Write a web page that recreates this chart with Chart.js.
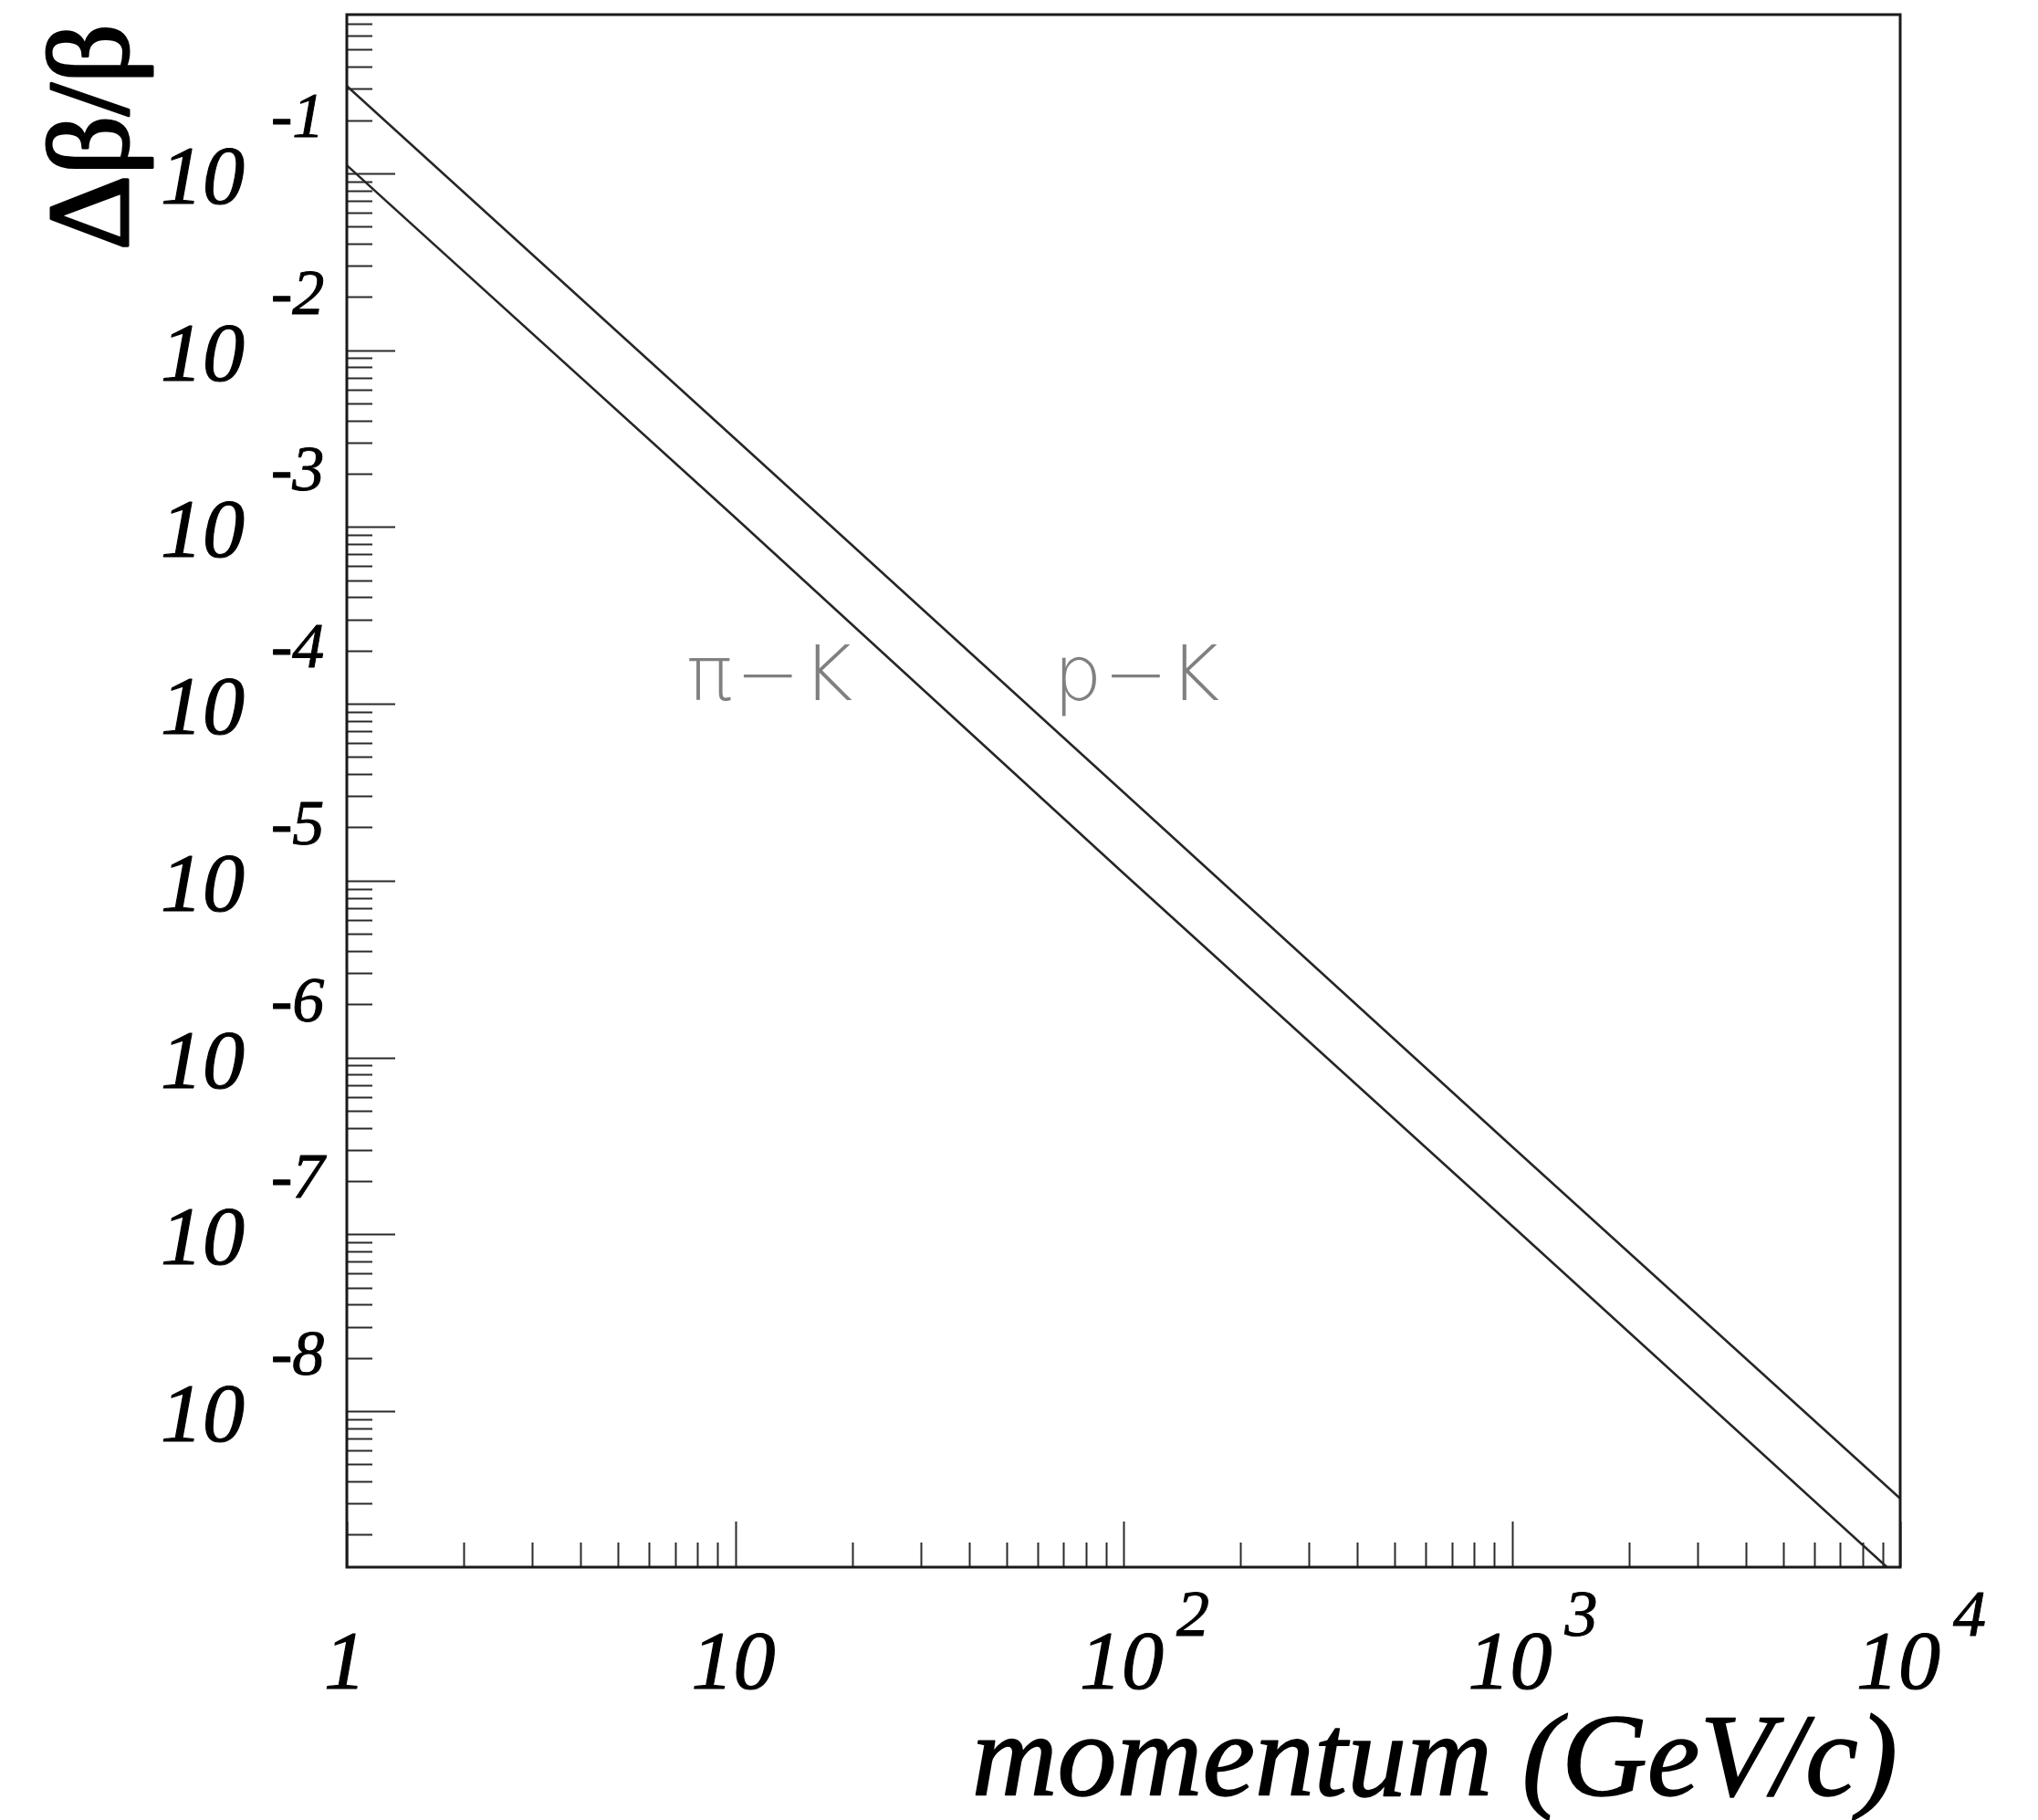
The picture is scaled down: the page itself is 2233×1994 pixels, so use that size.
<!DOCTYPE html>
<html>
<head>
<meta charset="utf-8">
<script src="https://cdn.jsdelivr.net/npm/chart.js@4/dist/chart.umd.min.js"></script>
<style>
  html, body { margin: 0; padding: 0; background: #ffffff; }
  #wrap { width: 2233px; height: 1994px; position: relative; background: #ffffff; }
</style>
</head>
<body>
<div id="wrap"><canvas id="c" width="2233" height="1994"></canvas></div>
<script>
// ---- Data ----
const momentum = [1, 10, 100, 1000, 10000];                    // GeV/c
const pKSeparation = [0.312, 3.15e-3, 3.16e-5, 3.14e-7, 3.2e-9];  // Δβ/β for p−K
const piKSeparation = [0.111, 1.13e-3, 1.10e-5, 1.12e-7, 1.12e-9]; // Δβ/β for π−K

const seriesNames = ['p−K', 'π−K'];

const xTickValues = [1, 10, 100, 1000, 10000];
const xTickBase = ['1', '10', '10', '10', '10'];
const xTickExponents = ['', '', '2', '3', '4'];

const yTickValues = [1e-1, 1e-2, 1e-3, 1e-4, 1e-5, 1e-6, 1e-7, 1e-8];
const yTickBase = ['10', '10', '10', '10', '10', '10', '10', '10'];
const yTickExponents = ['-1', '-2', '-3', '-4', '-5', '-6', '-7', '-8'];

const xRange = [1, 10000];
const yRange = [1.31e-9, 0.79];

const xTitle = 'momentum (GeV/c)';
const yTitle = 'Δβ/β';

// Text annotations placed at data coordinates
const annotations = [
  { text: 'π−K', x: 7.5, y: 1.05e-4 },
  { text: 'p−K', x: 66, y: 1.05e-4 }
];

// ---- Build datasets ----
function toPoints(xs, ys) { return xs.map((v, i) => ({ x: v, y: ys[i] })); }

const serif = '"Liberation Serif", "Times New Roman", serif';

function heavyText(ctx, text, x, y, w) {
  ctx.lineWidth = w;
  ctx.strokeStyle = ctx.fillStyle;
  ctx.lineJoin = 'round';
  ctx.strokeText(text, x, y);
  ctx.fillText(text, x, y);
}

const rootStyle = {
  id: 'rootStyle',
  afterDraw(chart) {
    const { ctx, chartArea, scales } = chart;
    const { left, right, top, bottom } = chartArea;
    const xs = scales.x, ys = scales.y;
    ctx.save();

    // ticks on y axis (inside)
    ctx.strokeStyle = '#2a2a2a';
    ctx.lineWidth = 2;
    for (let d = -10; d <= 0; d++) {
      for (let k = 1; k <= 9; k++) {
        const v = k * Math.pow(10, d);
        if (v < yRange[0] || v > yRange[1]) continue;
        const py = Math.round(ys.getPixelForValue(v)) + 0.5;
        const len = (k === 1) ? 53 : 28;
        ctx.beginPath();
        ctx.moveTo(left, py);
        ctx.lineTo(left + len, py);
        ctx.stroke();
      }
    }
    // ticks on x axis (inside)
    for (let d = 0; d <= 4; d++) {
      for (let k = 1; k <= 9; k++) {
        const v = k * Math.pow(10, d);
        if (v < xRange[0] || v > xRange[1]) continue;
        const px = Math.round(xs.getPixelForValue(v)) + 0.5;
        const len = (k === 1) ? 50 : 27;
        ctx.beginPath();
        ctx.moveTo(px, bottom);
        ctx.lineTo(px, bottom - len);
        ctx.stroke();
      }
    }

    // frame
    ctx.strokeStyle = '#1a1a1a';
    ctx.lineWidth = 3;
    ctx.strokeRect(left, top, right - left, bottom - top);

    // y tick labels
    ctx.fillStyle = '#000';
    yTickValues.forEach((v, i) => {
      const py = ys.getPixelForValue(v);
      ctx.font = 'italic 92px ' + serif;
      ctx.textAlign = 'center';
      ctx.textBaseline = 'alphabetic';
      heavyText(ctx, yTickBase[i], 222, py + 33, 1.2);
      ctx.font = 'italic 70px ' + serif;
      ctx.textAlign = 'left';
      heavyText(ctx, yTickExponents[i], 297, py - 40, 1);
    });

    // x tick labels
    xTickValues.forEach((v, i) => {
      const px = xs.getPixelForValue(v);
      ctx.font = 'italic 92px ' + serif;
      ctx.textAlign = 'center';
      ctx.textBaseline = 'alphabetic';
      heavyText(ctx, xTickBase[i], px - 2, 1850, 1.2);
      if (xTickExponents[i]) {
        ctx.font = 'italic 72px ' + serif;
        ctx.textAlign = 'left';
        heavyText(ctx, xTickExponents[i], px + 58, 1792, 1);
      }
    });

    // x title
    ctx.font = 'italic 130px ' + serif;
    ctx.textAlign = 'right';
    ctx.textBaseline = 'alphabetic';
    heavyText(ctx, xTitle, right - 3, 1967, 1.5);

    // y title (rotated)
    ctx.save();
    ctx.translate(140, 26);
    ctx.rotate(-Math.PI / 2);
    ctx.font = '128px ' + serif;
    ctx.textAlign = 'right';
    ctx.textBaseline = 'alphabetic';
    heavyText(ctx, yTitle, 0, 0, 3);
    ctx.restore();

    // curve labels
    ctx.fillStyle = '#808080';
    ctx.font = '200 84px "DejaVu Sans", "Liberation Sans", sans-serif';
    ctx.textAlign = 'left';
    ctx.textBaseline = 'alphabetic';
    annotations.forEach(a => {
      const px = xs.getPixelForValue(a.x);
      const py = ys.getPixelForValue(a.y);
      ctx.letterSpacing = '0px';
      const w0 = ctx.measureText(a.text).width;
      const sp = Math.max(0, (182 - w0) / 2);
      ctx.letterSpacing = sp + 'px';
      ctx.fillText(a.text, px, py);
    });
    ctx.letterSpacing = '0px';

    ctx.restore();
  }
};

new Chart(document.getElementById('c'), {
  type: 'line',
  data: {
    datasets: [
      {
        label: seriesNames[0],
        data: toPoints(momentum, pKSeparation),
        borderColor: '#262626',
        borderWidth: 2.6,
        pointRadius: 0,
        tension: 0,
        fill: false
      },
      {
        label: seriesNames[1],
        data: toPoints(momentum, piKSeparation),
        borderColor: '#262626',
        borderWidth: 2.6,
        pointRadius: 0,
        tension: 0,
        fill: false
      }
    ]
  },
  options: {
    responsive: false,
    devicePixelRatio: 1,
    animation: false,
    layout: { padding: { top: 16, right: 151, left: 0, bottom: 0 } },
    plugins: {
      legend: { display: false },
      tooltip: { enabled: false },
      title: { display: false }
    },
    scales: {
      x: {
        type: 'logarithmic',
        min: xRange[0],
        max: xRange[1],
        grid: { display: false },
        border: { display: false },
        ticks: { display: false },
        afterFit(scale) { scale.height = 1994 - 1717; }
      },
      y: {
        type: 'logarithmic',
        min: yRange[0],
        max: yRange[1],
        grid: { display: false },
        border: { display: false },
        ticks: { display: false },
        afterFit(scale) { scale.width = 380; }
      }
    }
  },
  plugins: [rootStyle]
});
</script>
</body>
</html>
